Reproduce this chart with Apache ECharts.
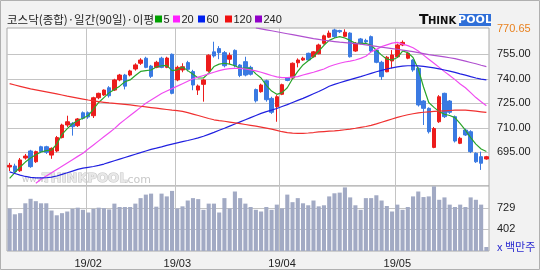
<!DOCTYPE html>
<html><head><meta charset="utf-8">
<script src="https://cdn.jsdelivr.net/npm/echarts@6/dist/echarts.min.js"></script>
<style>html,body{margin:0;padding:0;background:#f2f2f2;}#c{width:540px;height:270px;}</style>
</head><body><div id="c"></div>
<script>
const dates = [
'19/01/11','19/01/14','19/01/15','19/01/16','19/01/17','19/01/18','19/01/21','19/01/22','19/01/23','19/01/24','19/01/25','19/01/28','19/01/29','19/01/30','19/01/31',
'19/02/01','19/02/07','19/02/08','19/02/11','19/02/12','19/02/13','19/02/14','19/02/15','19/02/18','19/02/19','19/02/20','19/02/21','19/02/22','19/02/25','19/02/26','19/02/27','19/02/28',
'19/03/04','19/03/05','19/03/06','19/03/07','19/03/08','19/03/11','19/03/12','19/03/13','19/03/14','19/03/15','19/03/18','19/03/19','19/03/20','19/03/21','19/03/22','19/03/25','19/03/26','19/03/27','19/03/28','19/03/29',
'19/04/01','19/04/02','19/04/03','19/04/04','19/04/05','19/04/08','19/04/09','19/04/10','19/04/11','19/04/12','19/04/15','19/04/16','19/04/17','19/04/18','19/04/19','19/04/22','19/04/23','19/04/24','19/04/25','19/04/26','19/04/29','19/04/30',
'19/05/02','19/05/03','19/05/07','19/05/08','19/05/09','19/05/10','19/05/13','19/05/14','19/05/15','19/05/16','19/05/17','19/05/20','19/05/21','19/05/22','19/05/23','19/05/24','19/05/27','19/05/28'];

// [open, close, low, high]
const ohlc = [
[686,687,683.5,688.5],[686.6,683.1,682,688],[683.7,690.3,683,691.5],[691.5,692.7,690.5,694],[695.8,686.2,685.5,696.5],
[689.2,695.4,688.5,696],[698.4,695.4,694.5,699],[698.4,695,694,699],[693.3,697.4,691,698],[695.8,704,695,705],
[704,711.7,703.5,712.5],[711.7,713.7,710.5,717.4],[712.7,710.7,705.2,713.5],[711.3,715.4,710.5,716],[719.2,715.8,715,720],
[719.2,716.6,715.5,720],[717.4,728.4,716,729],[728.4,731.1,727.5,731.5],[730.1,733.1,729.5,733.5],[734.5,729.6,728.5,735.5],
[733.1,739.3,732.5,740],[739.3,742.3,738.5,743],[742.3,735.5,733.5,743],[742.3,744.8,741.5,745.5],[746,748.5,745,749.5],
[749.5,751.5,748.5,752.6],[752.6,747,746.5,753.5],[747.8,741.5,740.5,748.5],[747,750.1,746.5,751],[752.6,747,746.5,753.5],
[747,752.7,746.5,753.5],[755,731.1,730.5,755.5],[739.3,747,738.5,748],[745.4,747.4,744,749.5],[749.9,745.8,744.5,751],
[744.4,736.2,733,745.5],[733.1,735.6,730.1,736.5],[736.6,739.3,726,740],[744.8,754.4,744,755],[756.5,754,753,762.7],
[758.5,756,752,760],[756,748,747,757],[752,754.3,749,756],[757.4,748,747,758],[748.4,742,741,749],
[750.5,742.3,741.5,753.5],[747,742.8,742,748],[733.4,726.5,725.5,734],[732.1,736.2,731.5,737],[738.8,727.2,726,739.5],
[728,719.5,718.5,729],[722.9,729,713.7,730],[730.5,736.4,730,737],[740.5,739,738.5,741],[740.5,749.5,740,750],
[749.8,751.5,747,752.5],[751.5,752.6,751,753.5],[755.6,751.5,751,756],[753.5,756.5,753,757],[755.3,760.7,755,761.5],
[761.7,766.3,761,767],[765.5,768,765,769.5],[769.9,765.8,765,770.65],[769.5,768.8,768,770],[766,768.5,765.5,770.3],
[768,753.5,753,768.5],[757,761.7,756.5,762.5],[764.4,761.7,761,765],[763.5,762.6,761.5,764.5],[765.8,757,756,766.5],
[757.6,750.1,749.5,758],[750.1,741.3,739.3,751],[744.3,753.2,744,754],[750.9,754.6,746.4,757.6],[753.5,760.7,753,761.5],
[760.7,762.3,760,763.5],[752.6,755.6,752,756.5],[751.5,745.4,744.3,752],[746.4,724,723,747],[726.4,721.9,711.7,727],
[721.9,707.6,706.5,722.5],[698,709.5,697.5,710.5],[713.7,729,713,730],[731.1,716.8,716,731.5],[726.4,719.5,718.5,727],
[716.8,701.9,701,717.5],[700.5,703.6,700,704.5],[708.6,705.6,705,709.5],[707.6,695.4,694.5,708.5],[694.4,689.2,688.5,695],
[692.3,688.3,684.2,695.4],[690.9,692.3,690.5,692.8]];

const volume = [718,629,646,795,863,827,795,795,686,614,646,671,712,729,697,656,712,729,722,703,
790,739,739,739,790,873,926,941,744,941,899,982,718,749,837,873,858,697,790,790,
656,873,718,973,873,790,739,697,671,739,697,775,718,926,812,873,795,765,837,749,
765,899,946,956,1035,884,765,697,873,873,916,837,754,671,775,697,739,899,973,889,
899,1050,848,884,775,739,775,739,884,848,775,135];

const ma5 = [679,682.5,686,689,691.5,693.5,695.2,696,696.4,700,706,709.5,712.5,714.5,715.8,717.5,721.5,725.5,728.5,731.5,
733.5,735.5,738.2,739.3,742,744.5,745,745.4,747.2,748,748.2,745,745.5,747.2,745,742.8,740.5,740.5,743.5,747.5,
749,749.5,749,748,746.4,746.6,746.4,743,740.5,736,732.5,730.5,731.5,734.5,740,744.5,748.5,751,753.5,757,
760.5,763.5,765,765.8,765,763.5,761.7,761.7,761.7,760.5,757.5,754.5,752,751.5,753,757,756,753,746,735,
725.5,722.5,719.9,718.3,717.5,716.2,712.5,708.5,704,700,697,695.5];

const ma20 = [null,null,null,null,null,676,678.5,680.5,682.5,684.5,686.5,688.5,690.5,692.5,694.4,697,699.5,702,704.5,707,
709.5,712.5,715,717.5,720,722.5,725,727,729,731,732.5,734,735.5,737,738.5,740,741,742,743,744,
745,745.8,746.2,746.4,746.4,746,745.5,744.8,744,743,742,741.2,740.7,740.7,741,741.3,742.3,743.2,744,745,
746,747.5,748.6,749.5,750.3,750.8,751.5,752.5,753.8,756.5,758,759.7,760.8,761.8,762.3,761.2,760.3,759,757,754.5,
752,749.5,747,744.4,742,739.5,736.8,734.5,731.5,728.5,726,723.5];

const ma60 = [683,682,681,680.2,679.6,679.3,679.3,679.4,679.8,680.5,681.5,682.5,683.5,684.5,685.3,685.8,686.3,687,687.8,688.8,
689.8,690.8,691.8,692.8,693.8,694.8,695.8,696.8,697.5,698.3,699.2,700,700.8,701.5,702.2,703,703.8,704.8,706,707.2,
708.5,709.7,711,712.3,713.6,714.9,716.2,717.5,718.8,719.9,720.8,721.8,723,724.2,725.5,726.8,728,729.4,730.8,732.2,
733.8,735.4,736.6,737.6,738.6,739.5,740.4,741.3,742.3,743.3,744.3,745.2,746,746.7,747.3,747.7,748,748,747.9,747.6,
747.2,746.7,746.1,745.4,744.7,743.9,743,742.2,741.3,740.5,739.8,739.3];

const ma120 = [737,736.2,735.4,734.6,733.8,733.2,732.6,732,731.4,730.8,730.1,729.4,728.8,728.2,727.6,727,726.5,726,725.6,725.2,
724.9,724.6,724.3,724,723.6,723.2,722.8,722.4,722,721.6,721.2,720.8,720.5,720.1,719.3,718.4,717.5,716.6,715.7,714.9,
714.4,714,713.5,713,712.5,712,711.5,711,710.4,709.8,709.2,708.4,707.6,707,706.7,706.6,706.6,706.8,707.1,707.5,
707.7,707.9,708.1,708.4,708.8,709.2,709.7,710.3,710.8,711.5,712.4,713.4,714.4,715.4,716.4,717.2,718,718.6,719.1,719.5,
719.8,720,720.2,720.4,720.6,720.8,720.9,720.8,720.5,720.2,719.8,719.4];

const ma240 = [null,null,null,null,null,null,null,null,null,null,null,null,null,null,null,null,null,null,null,null,
null,null,null,null,null,null,null,null,null,null,null,null,null,null,null,null,null,null,null,null,
null,null,null,null,null,null,null,771.2,770.6,770,769.4,768.8,768.2,767.6,767,766.4,765.8,765.2,764.6,764.1,
763.6,763.2,762.8,762.4,762.1,761.8,761.5,761.2,760.8,760.3,759.8,759.3,758.9,758.5,758.1,757.6,757.1,756.6,756,755.4,
754.8,754.3,753.9,753.4,752.9,752.3,751.6,750.8,750,749.2,748.3,747.5];

const priceTicks = [695,710,725,740,755];
const priceMaxLabel = 770.65;
const volumeTicks = [402,729];
const titleText = '코스닥(종합)·일간(90일)·이평';
const maNames = ['5','20','60','120','240'];

const monthStarts = dates.map((d,i)=> i>0 && d.slice(3,5)!==dates[i-1].slice(3,5) ? i : -1).filter(i=>i>=0);
const isMonthStart = (i)=> monthStarts.indexOf(i) >= 0;

const chart = echarts.init(document.getElementById('c'), null, {renderer:'canvas'});
const lab = {fontFamily:'Liberation Sans', fontSize:11, color:'#222'};
const gridColor = '#c4c4c4';

const maColors = ['#2aa52a','#f04cf0','#2020e0','#f03030','#b050d0'];
const maData = [ma5, ma20, ma60, ma120, ma240];

const legendItems = [];
const boxX = [155,173,198,225,255];
maNames.forEach((n,k)=>{
  legendItems.push({type:'rect', shape:{x:boxX[k], y:15.5, width:7, height:7}, style:{fill:['#00a000','#ff20ff','#0020f0','#f01010','#9000c8'][k]}});
  legendItems.push({type:'text', x:boxX[k]+8.5, y:19.5, style:{text:n, font:'11px "Liberation Sans"', fill:'#222', textVerticalAlign:'middle'}});
});

const baseGraphic = [
  {type:'rect', shape:{x:0.5,y:0.5,width:539,height:269}, style:{fill:'none', stroke:'#b0b0b0', lineWidth:1}, silent:true},
  {type:'text', x:7, y:19.5, style:{text:titleText, font:'11.5px "Noto Sans CJK KR"', fill:'#222', textVerticalAlign:'middle'}},
].concat(legendItems).concat([
  {type:'text', x:419, y:20, style:{text:'T', font:'bold 14px "DejaVu Sans"', fill:'#111', textVerticalAlign:'middle'}},
  {type:'text', x:428, y:21, style:{text:'HINK', font:'bold 10px "DejaVu Sans"', fill:'#111', textVerticalAlign:'middle'}},
  {type:'rect', shape:{x:459, y:14, width:32, height:12}, style:{fill:'#2f6fd8'}},
  {type:'text', x:475, y:20.5, style:{text:'POOL', font:'bold 11px "DejaVu Sans"', fill:'#ffffff', textAlign:'center', textVerticalAlign:'middle'}},
  {type:'text', x:22, y:180, z:0, style:{text:'www.', font:'9px "DejaVu Sans"', fill:'#c8c8c8', textVerticalAlign:'middle'}},
  {type:'text', x:42, y:179, z:0, style:{text:'THINKPOOL', font:'bold 13px "DejaVu Sans"', fill:'#e8e8e8', stroke:'#c4c4c4', lineWidth:1, textVerticalAlign:'middle'}},
  {type:'text', x:124, y:180, z:0, style:{text:'.com', font:'11px "DejaVu Sans"', fill:'#c8c8c8', textVerticalAlign:'middle'}},
  {type:'text', x:497, y:247, style:{text:'x 백만주', font:'11px "Noto Sans CJK KR"', fill:'#2a2ad0', textVerticalAlign:'middle'}}
]);

chart.setOption({
  animation:false,
  backgroundColor:'#f2f2f2',
  grid:[
    {left:7, right:51, top:28, height:158, show:true, z:-5, backgroundColor:'#ffffff', borderColor:'#a8a8a8', borderWidth:1},
    {left:7, right:51, top:186, height:65, show:true, z:-5, backgroundColor:'#ffffff', borderColor:'#a8a8a8', borderWidth:1}
  ],
  xAxis:[
    {type:'category', gridIndex:0, data:dates, boundaryGap:true, axisLine:{show:false}, axisTick:{show:false},
     axisLabel:{show:false}, splitLine:{show:false}},
    {type:'category', gridIndex:1, data:dates, boundaryGap:true, axisLine:{show:false}, axisTick:{show:false},
     axisLabel:Object.assign({interval:(i)=>isMonthStart(i), margin:7, formatter:(v)=>v.slice(0,5)}, lab),
     splitLine:{show:false}}
  ],
  yAxis:[
    {type:'value', gridIndex:0, position:'right', min:674.36, max:771.1, scale:true,
     axisLine:{show:false}, axisTick:{show:false}, splitLine:{show:false},
     axisLabel:Object.assign({margin:8, customValues:priceTicks.concat([priceMaxLabel]),
       formatter:(v)=> v===priceMaxLabel ? '{o|'+v.toFixed(2)+'}' : v.toFixed(2),
       rich:{o:{color:'#e8801e', fontFamily:'Liberation Sans', fontSize:11}}}, lab)},
    {type:'value', gridIndex:1, position:'right', min:75, max:1056,
     axisLine:{show:false}, axisTick:{show:false}, splitLine:{show:false},
     axisLabel:Object.assign({margin:8, customValues:volumeTicks, formatter:(v)=>String(Math.round(v))}, lab)}
  ],
  series:[
    {type:'bar', xAxisIndex:1, yAxisIndex:1, data:volume, barCategoryGap:'22%', itemStyle:{color:'#a2aac4'}, z:6},
    {type:'candlestick', xAxisIndex:0, yAxisIndex:0, data:ohlc, barWidth:4, z:6,
     itemStyle:{color:'#ec1c1c', color0:'#3a7ae2', borderColor:'#ec1c1c', borderColor0:'#3a7ae2', borderWidth:1}},
  ].concat(maData.map((d,k)=>({type:'line', xAxisIndex:0, yAxisIndex:0, data:d, symbol:'none', showSymbol:false,
     clip:true, lineStyle:{color:maColors[k], width:1.2}, z:7})) ),
  graphic: baseGraphic
});

// grid lines placed through the library's own scales (convertToPixel)
try {
  const lines = [];
  const addH = (gridIndex, yAxisIndex, v) => {
    const p0 = chart.convertToPixel({xAxisIndex:gridIndex, yAxisIndex:yAxisIndex}, [0, v]);
    const y = Math.round(p0[1]) + 0.5;
    lines.push({type:'line', z:1, silent:true, shape:{x1:7, y1:y, x2:489, y2:y}, style:{stroke:gridColor, lineWidth:1}});
  };
  const addV = (gridIndex, yAxisIndex, i, yTop, yBot) => {
    const a = chart.convertToPixel({xAxisIndex:gridIndex, yAxisIndex:yAxisIndex}, [i-1, yTop]);
    const b = chart.convertToPixel({xAxisIndex:gridIndex, yAxisIndex:yAxisIndex}, [i, yTop]);
    const x = Math.round((a[0]+b[0])/2) + 0.5;
    const t = chart.convertToPixel({xAxisIndex:gridIndex, yAxisIndex:yAxisIndex}, [i, yTop])[1];
    const bt = chart.convertToPixel({xAxisIndex:gridIndex, yAxisIndex:yAxisIndex}, [i, yBot])[1];
    lines.push({type:'line', z:1, silent:true, shape:{x1:x, y1:t, x2:x, y2:bt}, style:{stroke:gridColor, lineWidth:1}});
  };
  priceTicks.forEach(v=>addH(0,0,v));
  volumeTicks.forEach(v=>addH(1,1,v));
  monthStarts.forEach(i=>{ addV(0,0,i,771.1,674.36); addV(1,1,i,1056,75); });
  chart.setOption({graphic: baseGraphic.concat(lines)});
} catch(e) {}
</script></body></html>
